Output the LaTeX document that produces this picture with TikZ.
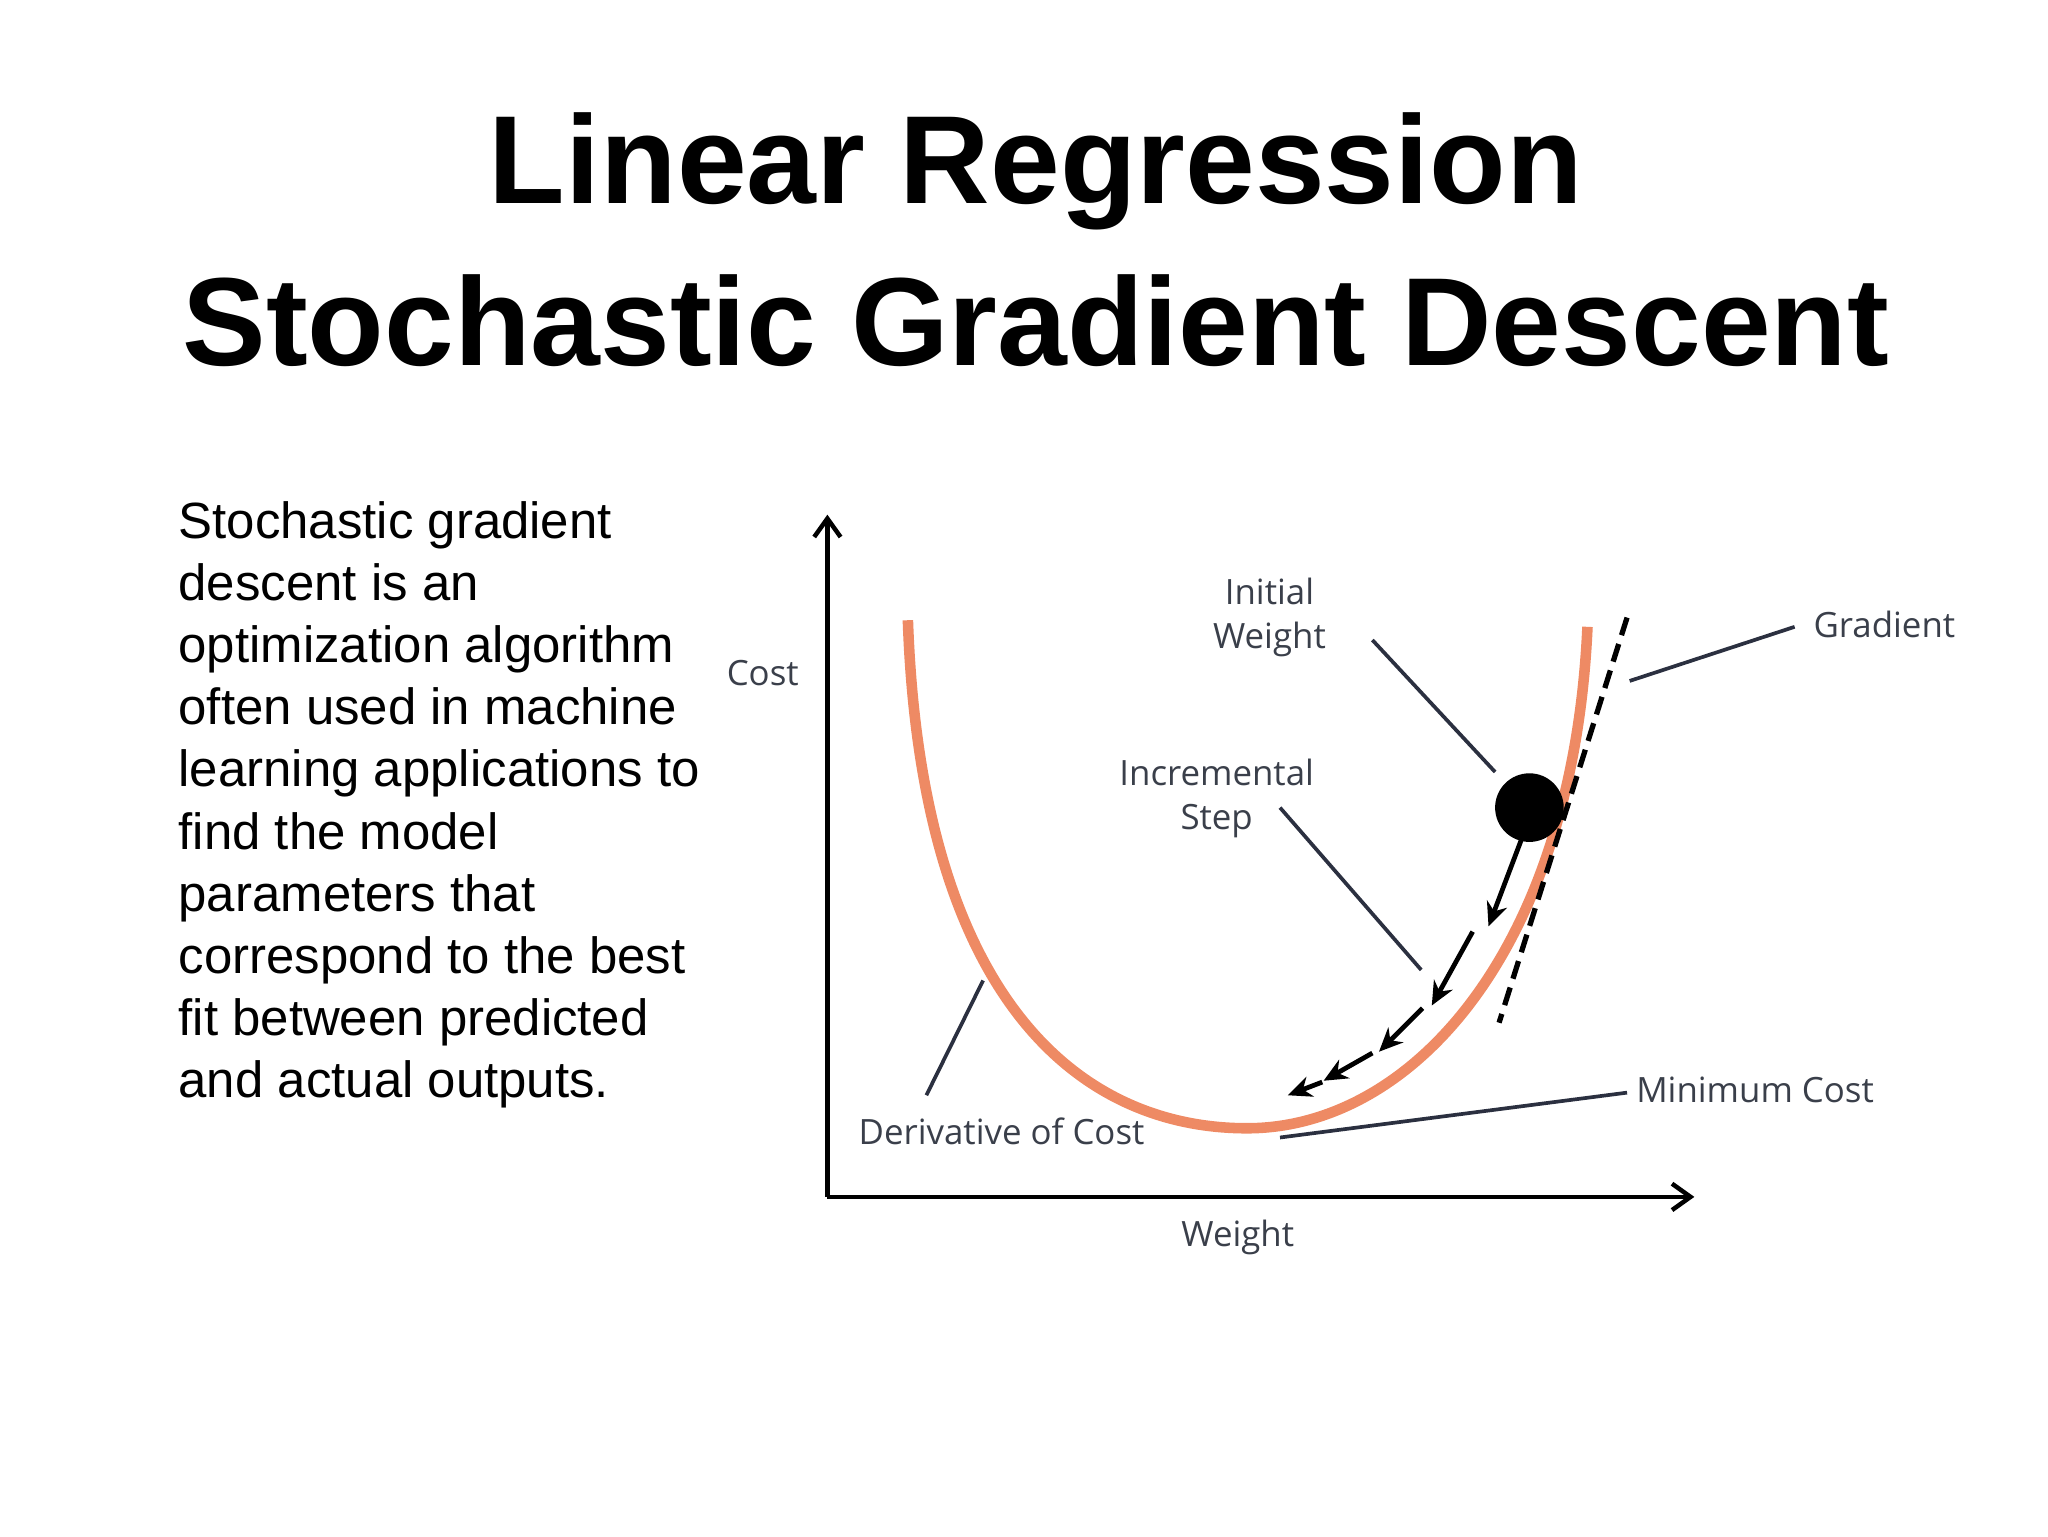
\documentclass[tikz,border=0pt]{standalone}
\usepackage{fontspec}
\setmainfont{Liberation Sans}
\newfontfamily\lab{Open Sans}
\definecolor{curve}{HTML}{EE8A64}
\definecolor{lead}{HTML}{2B3040}
\definecolor{labc}{HTML}{3A3F4A}
\usetikzlibrary{arrows.meta}
\begin{document}
\begin{tikzpicture}[x=0.5pt,y=-0.5pt,
  lbl/.style={font=\lab\fontsize{13.2}{16.5}\selectfont,text=labc,align=center,inner sep=0},
  leader/.style={draw=lead,line width=1.4pt},
  stp/.style={-{Stealth[length=9pt,width=8pt]},line width=1.8pt}]
\useasboundingbox (0,0) rectangle (1552,1164);
\node[font=\bfseries\fontsize{47.5}{57}\selectfont] (t1) at (785,130) {Linear Regression};
\node[font=\bfseries\fontsize{47.5}{57}\selectfont] (t2) at (785,243) {Stochastic Gradient Descent};
\node[anchor=north west,align=left,inner sep=0,font=\fontsize{19.3}{23.5}\selectfont] (body) at (135,380)
{Stochastic gradient\\descent is an\\optimization algorithm\\often used in machine\\learning applications to\\find the model\\parameters that\\correspond to the best\\fit between predicted\\and actual outputs.};
% axes
\coordinate (o) at (627,907);
\coordinate (ytop) at (627,390);
\coordinate (xend) at (1284,907);
\draw[line width=1.7pt,-{Straight Barb[length=7pt,width=10pt]}] (o) -- (ytop);
\draw[line width=1.7pt,-{Straight Barb[length=7pt,width=10pt]}] (o) -- (xend);
% curve
\coordinate (cL) at (688,470); \coordinate (cM) at (945,855); \coordinate (cR) at (1203,475);
\draw[curve,line width=4pt] (cL) .. controls (698,760) and (820,855) .. (cM) .. controls (1070,855) and (1192,720) .. (cR);
% tangent
\coordinate (g1) at (1233,468); \coordinate (g2) at (1136,775);
\draw[line width=2pt,dash pattern=on 7pt off 3.5pt] (g1) -- (g2);
% ball
\node[circle,fill=black,minimum size=26pt,inner sep=0] (ball) at (1159,612) {};
% steps
\coordinate (s0) at (1153,636); \coordinate (s1) at (1128,702);
\coordinate (s2) at (1116,706); \coordinate (s3) at (1085,762);
\coordinate (s4) at (1078,764); \coordinate (s5) at (1045,797);
\coordinate (s6) at (1040,798); \coordinate (s7) at (1003,819);
\coordinate (s8) at (1002,820); \coordinate (s9) at (976,830);
\draw[stp] (s0) -- (s1); \draw[stp] (s2) -- (s3); \draw[stp] (s4) -- (s5);
\draw[stp] (s6) -- (s7); \draw[stp] (s8) -- (s9);
% labels
\node[lbl] (cost) at (578,510) {Cost};
\node[lbl] (wt) at (938,938) {Weight};
\node[lbl] (iw) at (962,468) {Initial\\Weight};
\node[lbl] (gr) at (1428,473) {Gradient};
\node[lbl] (is) at (922,605) {Incremental\\Step};
\node[lbl] (dc) at (759,857) {Derivative of Cost};
\node[lbl] (mc) at (1330,826) {Minimum Cost};
% leaders
\coordinate (a1) at (1040,485); \coordinate (a2) at (1133,585);
\coordinate (b1) at (1360,475); \coordinate (b2) at (1235,516);
\coordinate (c1) at (970,612); \coordinate (c2) at (1077,735);
\coordinate (d1) at (745,743); \coordinate (d2) at (702,830);
\coordinate (e1) at (1233,828); \coordinate (e2) at (970,862);
\draw[leader] (a1) -- (a2); \draw[leader] (b1) -- (b2);
\draw[leader] (c1) -- (c2); \draw[leader] (d1) -- (d2);
\draw[leader] (e1) -- (e2);
\end{tikzpicture}
\end{document}
